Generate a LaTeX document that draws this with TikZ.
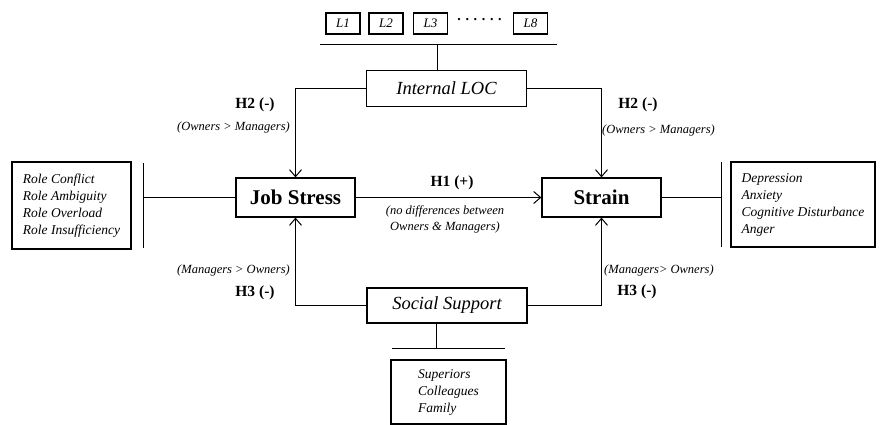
\documentclass[tikz,border=0pt]{standalone}
\usepackage{fontspec}
\setmainfont{Liberation Serif}
\usetikzlibrary{arrows.meta,positioning}

\tikzset{
  lbox/.style={draw, line width=1.1pt, inner sep=0pt, minimum width=34pt, minimum height=21pt,
    font=\fontsize{13}{13}\selectfont\itshape},
  varbox/.style={draw, line width=1.2pt, inner sep=0pt, minimum width=119pt, minimum height=39pt,
    font=\fontsize{21}{21}\selectfont\bfseries},
  modbox/.style={draw, line width=1.2pt, inner sep=0pt, minimum width=160pt, minimum height=36pt,
    font=\fontsize{18.5}{18.5}\selectfont\itshape},
  itembox/.style={draw, line width=1.2pt, inner sep=0pt, align=left,
    font=\fontsize{13.5}{17}\selectfont\itshape},
  hyp/.style={font=\fontsize{15.5}{15.5}\selectfont\bfseries},
  grp/.style={font=\fontsize{12.5}{16}\selectfont\itshape, align=center, inner sep=0pt},
  arr/.style={line width=1pt, -{Straight Barb[length=7pt,width=12pt,line width=1pt]}},
  con/.style={line width=1pt}
}

\begin{document}
\begin{tikzpicture}[x=1pt,y=-1pt]
  \useasboundingbox (0,0) rectangle (880,425);

  % locus of control items
  \node[lbox] (l1) at (343,23.5) {L1};
  \node[lbox] (l2) at (386,23.5) {L2};
  \node[lbox] (l3) at (430.5,23.5) {L3};
  \node[font=\fontsize{14}{14}\selectfont\bfseries] (ldots) at (479.5,20) {. . . . . .};
  \node[lbox] (l8) at (530.5,23.5) {L8};
  \coordinate (lbarL) at (320,45);
  \coordinate (lbarR) at (557,45);
  \coordinate (lbarM) at (437,45);
  \draw[con] (lbarL) -- (lbarR);

  % main variables
  \node[modbox] (loc) at (446.5,88.5) {Internal LOC};
  \node[varbox] (js) at (295.5,197.5) {Job Stress};
  \node[varbox] (strain) at (601.5,197.5) {Strain};
  \node[modbox, minimum height=35pt] (ss) at (447,305.5) {Social Support};
  \draw[con] (lbarM) -- (lbarM |- loc.north);

  % stressors
  \node[itembox, minimum width=119pt, minimum height=87pt] (roles) at (71.5,205.5)
    {Role Conflict\\Role Ambiguity\\Role Overload\\Role Insufficiency};
  \coordinate (rbarT) at (143,163);
  \coordinate (rbarB) at (143,248);
  \draw[con] (rbarT) -- (rbarB);
  \draw[con] (js.west) -- (js.west -| rbarT);

  % strain outcomes
  \node[itembox, minimum width=144pt, minimum height=85pt] (outs) at (803,204.5)
    {Depression\\Anxiety\\Cognitive Disturbance\\Anger};
  \coordinate (obarT) at (721,162);
  \coordinate (obarB) at (721,247);
  \draw[con] (obarT) -- (obarB);
  \draw[con] (strain.east) -- (strain.east -| obarT);

  % support sources
  \coordinate (sbarL) at (392,348);
  \coordinate (sbarR) at (505,348);
  \coordinate (sbarM) at (436,348);
  \draw[con] (sbarL) -- (sbarR);
  \draw[con] (sbarM |- ss.south) -- (sbarM);
  \node[itembox, minimum width=115pt, minimum height=64pt] (srcs) at (448.5,392)
    {Superiors\\Colleagues\\Family};

  % paths
  \draw[arr] (js) -- (strain);
  \draw[arr] (loc.west) -| (js.north);
  \draw[arr] (loc.east) -| (strain.north);
  \draw[arr] (ss.west) -| (js.south);
  \draw[arr] (ss.east) -| (strain.south);

  % hypotheses
  \node[hyp] (h1) at (452,183) {H1 (+)};
  \node[grp] (h1g) at (445,219) {(no differences between\\Owners \& Managers)};
  \node[hyp] (h2a) at (255,105) {H2 (-)};
  \node[grp, anchor=east] (h2ag) at (290,127) {(Owners > Managers)};
  \node[hyp] (h2b) at (638,105) {H2 (-)};
  \node[grp, anchor=west] (h2bg) at (602,130) {(Owners > Managers)};
  \node[grp, anchor=east] (h3ag) at (290,270) {(Managers > Owners)};
  \node[hyp] (h3a) at (255,293) {H3 (-)};
  \node[grp, anchor=west] (h3bg) at (604,270) {(Managers> Owners)};
  \node[hyp] (h3b) at (637,292) {H3 (-)};
\end{tikzpicture}
\end{document}
